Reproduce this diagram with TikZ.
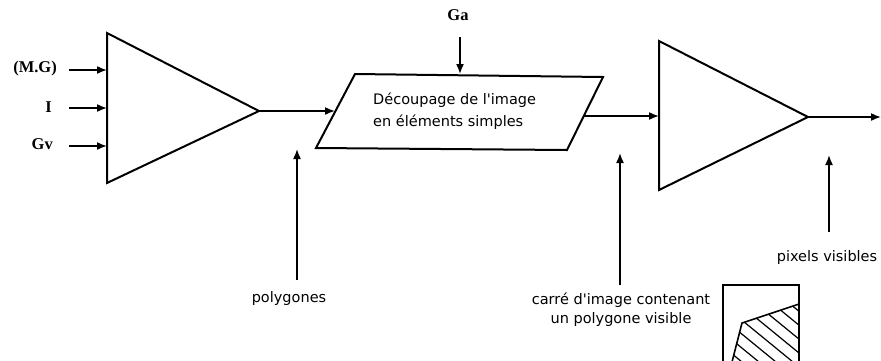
\documentclass[tikz,border=0pt]{standalone}
\usepackage{fontspec}
\setmainfont{DejaVu Sans}
\newfontfamily\serifb{Liberation Serif}
\usetikzlibrary{arrows.meta}
\begin{document}
\begin{tikzpicture}[x=1pt,y=-1pt,
  shapeline/.style={line width=2pt, line join=miter},
  flow/.style={line width=1.6pt,-{Latex[length=10pt,width=8pt]}},
  lab/.style={font=\fontsize{14.5}{19}\selectfont, inner sep=0pt, align=center},
  sym/.style={font=\serifb\bfseries\fontsize{16.5}{18}\selectfont, inner sep=0pt}]
\useasboundingbox (0,0) rectangle (881,360);

% left triangle
\coordinate (A1) at (107,33);
\coordinate (A2) at (107,183);
\coordinate (Aout) at (259,111);
\draw[shapeline] (A1) -- (Aout) -- (A2) -- cycle;

% inputs
\node[sym, anchor=east] (mg) at (57,69) {(M.G)};
\node[sym, anchor=east] (ii) at (52,107) {I};
\node[sym, anchor=east] (gv) at (53,144) {Gv};
\coordinate (sMG) at (69,70);  \coordinate (eMG) at (107,70);
\coordinate (sI)  at (69,108); \coordinate (eI)  at (107,108);
\coordinate (sGv) at (69,146); \coordinate (eGv) at (107,146);
\draw[flow] (sMG) -- (eMG);
\draw[flow] (sI) -- (eI);
\draw[flow] (sGv) -- (eGv);

% parallelogram
\coordinate (P1) at (355,74);
\coordinate (P2) at (603,77);
\coordinate (P3) at (567,150);
\coordinate (P4) at (316,148);
\draw[shapeline] (P1) -- (P2) -- (P3) -- (P4) -- cycle;
\node[lab, anchor=west, align=left, font=\fontsize{14.5}{22}\selectfont] (dec) at (373,111)
  {Découpage de l\textquotesingle image\\en éléments simples};
\coordinate (Pin) at (335,111);
\coordinate (Pout) at (584,116);
\coordinate (Ptop) at (460,74);
\draw[flow] (Aout) -- (Pin);

% Ga
\node[sym] (ga) at (458,15) {Ga};
\coordinate (sGa) at (460,37);
\draw[flow] (sGa) -- (Ptop);

% right triangle
\coordinate (B1) at (659,41);
\coordinate (B2) at (659,190);
\coordinate (Bout) at (808,117);
\coordinate (Bin) at (659,116);
\draw[shapeline] (B1) -- (Bout) -- (B2) -- cycle;
\draw[flow] (Pout) -- (Bin);
\coordinate (End) at (881,117);
\draw[flow] (Bout) -- (End);

% up arrows with labels
\node[lab] (poly) at (289,298) {polygones};
\coordinate (sPoly) at (297,280); \coordinate (ePoly) at (297,149);
\draw[flow] (sPoly) -- (ePoly);

\node[lab] (carre) at (621,310) {carré d\textquotesingle image contenant\\un polygone visible};
\coordinate (sCar) at (620,285); \coordinate (eCar) at (620,153);
\draw[flow] (sCar) -- (eCar);

\node[lab] (pix) at (827,257) {pixels visibles};
\coordinate (sPix) at (829,232); \coordinate (ePix) at (829,155);
\draw[flow] (sPix) -- (ePix);

% small square with hatched polygon
\coordinate (Q1) at (723,362);
\coordinate (Q2) at (723,285);
\coordinate (Q3) at (799,285);
\coordinate (Q4) at (799,362);
\draw[line width=1.6pt, line join=miter] (Q1) -- (Q2) -- (Q3) -- (Q4);
\coordinate (H1) at (799,304);
\coordinate (H2) at (742,323);
\coordinate (H3) at (732,362);
\draw[line width=1.6pt] (H1) -- (H2) -- (H3);
\begin{scope}
  \clip (H1) -- (H2) -- (H3) -- (Q4) -- cycle;
  \foreach \k in {-6,...,6} {
    \draw[line width=1.2pt] (705+\k*17,290) -- ++(110,90);
  }
\end{scope}
\end{tikzpicture}
\end{document}
